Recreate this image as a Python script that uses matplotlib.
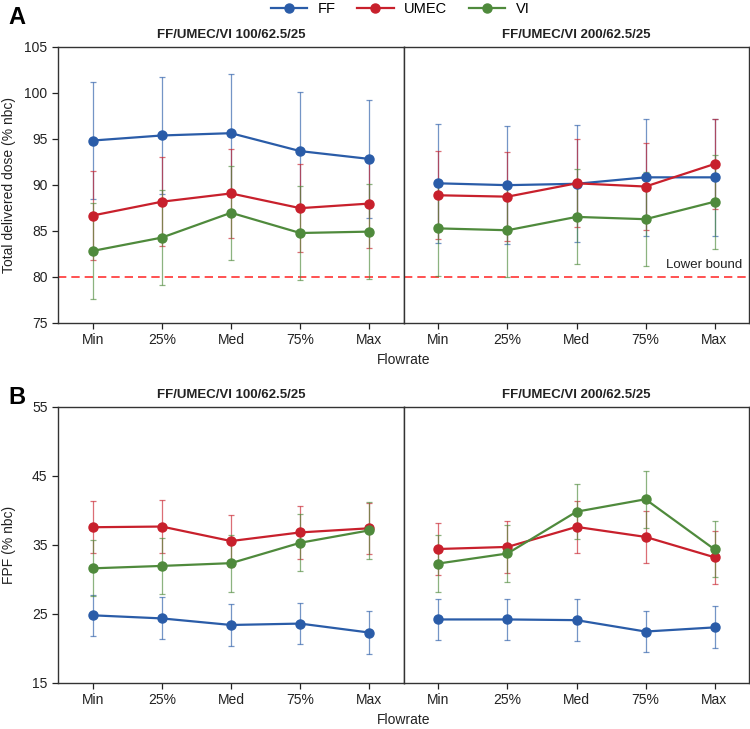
import numpy as np
import matplotlib
matplotlib.use('Agg')
from matplotlib import pyplot as plt

plt.rcParams['font.family'] = ['Liberation Sans', 'DejaVu Sans']

flow = ['Min', '25%', 'Med', '75%', 'Max']
panels = ['FF/UMEC/VI 100/62.5/25', 'FF/UMEC/VI 200/62.5/25']
series = ['FF', 'UMEC', 'VI']
colors = {'FF': '#2a5ca8', 'UMEC': '#c8202c', 'VI': '#4f8a3c'}

# total delivered dose (% nbc): mean and sd, per strength
tdd_ff_100 = [94.8, 95.35, 95.6, 93.65, 92.8]
tdd_ff_100_sd = [6.4, 6.4, 6.4, 6.4, 6.4]
tdd_umec_100 = [86.65, 88.15, 89.05, 87.45, 87.95]
tdd_umec_100_sd = [4.8, 4.85, 4.8, 4.8, 4.8]
tdd_vi_100 = [82.8, 84.25, 86.95, 84.75, 84.9]
tdd_vi_100_sd = [5.18, 5.13, 5.11, 5.11, 5.2]

tdd_ff_200 = [90.15, 89.95, 90.1, 90.8, 90.8]
tdd_ff_200_sd = [6.45, 6.4, 6.35, 6.37, 6.37]
tdd_umec_200 = [88.85, 88.7, 90.15, 89.8, 92.25]
tdd_umec_200_sd = [4.78, 4.81, 4.8, 4.75, 4.84]
tdd_vi_200 = [85.25, 85.05, 86.5, 86.25, 88.15]
tdd_vi_200_sd = [5.14, 5.1, 5.16, 5.13, 5.1]

# fine particle fraction (% nbc)
fpf_ff_100 = [24.8, 24.35, 23.4, 23.6, 22.3]
fpf_ff_100_sd = [3.0, 3.03, 3.03, 2.94, 3.06]
fpf_umec_100 = [37.55, 37.65, 35.55, 36.8, 37.4]
fpf_umec_100_sd = [3.78, 3.78, 3.78, 3.8, 3.7]
fpf_vi_100 = [31.6, 31.95, 32.35, 35.3, 37.1]
fpf_vi_100_sd = [4.07, 4.05, 4.12, 4.1, 4.12]

fpf_ff_200 = [24.2, 24.2, 24.1, 22.45, 23.05]
fpf_ff_200_sd = [3.03, 3.03, 3.01, 3.01, 3.03]
fpf_umec_200 = [34.4, 34.7, 37.6, 36.15, 33.2]
fpf_umec_200_sd = [3.8, 3.75, 3.78, 3.78, 3.8]
fpf_vi_200 = [32.3, 33.75, 39.8, 41.6, 34.35]
fpf_vi_200_sd = [4.07, 4.07, 4.02, 4.1, 4.04]

tdd = [
    {'FF': (tdd_ff_100, tdd_ff_100_sd), 'UMEC': (tdd_umec_100, tdd_umec_100_sd), 'VI': (tdd_vi_100, tdd_vi_100_sd)},
    {'FF': (tdd_ff_200, tdd_ff_200_sd), 'UMEC': (tdd_umec_200, tdd_umec_200_sd), 'VI': (tdd_vi_200, tdd_vi_200_sd)},
]
fpf = [
    {'FF': (fpf_ff_100, fpf_ff_100_sd), 'UMEC': (fpf_umec_100, fpf_umec_100_sd), 'VI': (fpf_vi_100, fpf_vi_100_sd)},
    {'FF': (fpf_ff_200, fpf_ff_200_sd), 'UMEC': (fpf_umec_200, fpf_umec_200_sd), 'VI': (fpf_vi_200, fpf_vi_200_sd)},
]
lower_bound = 80

fig = plt.figure(figsize=(7.5, 7.29), dpi=100)
W, H = 750, 729


def add_ax(x0, y0, x1, y1):
    return fig.add_axes([x0 / W, 1 - y1 / H, (x1 - x0) / W, (y1 - y0) / H])


rows = [
    (tdd, 46.7, 322.7, (75, 105), [75, 80, 85, 90, 95, 100, 105], 'Total delivered dose (% nbc)'),
    (fpf, 406.7, 683, (15, 55), [15, 25, 35, 45, 55], 'FPF (% nbc)'),
]
x = np.arange(len(flow))
handles = {}
for r, (data, ytop, ybot, ylim, yticks, ylabel) in enumerate(rows):
    axes = [add_ax(58, ytop, 404, ybot), add_ax(404, ytop, 749, ybot)]
    for p, ax in enumerate(axes):
        for s in series:
            m, sd = data[p][s]
            ax.errorbar(x, m, yerr=sd, fmt='none', ecolor=colors[s], elinewidth=0.9,
                        capsize=2.5, capthick=0.9, alpha=0.65, zorder=2)
            h, = ax.plot(x, m, '-o', color=colors[s], lw=1.6, ms=6.5, zorder=3, label=s)
            handles[s] = h
        ax.set_xlim(-0.5, 4.5)
        ax.set_ylim(*ylim)
        ax.set_yticks(yticks)
        ax.set_xticks(x)
        ax.set_xticklabels(flow)
        ax.tick_params(labelsize=10, colors='#222222', length=4, width=0.9)
        for sp in ax.spines.values():
            sp.set_color('#333333')
            sp.set_linewidth(1.0)
        ax.set_title(panels[p], fontsize=9.5, fontweight='bold', pad=6, color='#222222')
        if p == 1:
            ax.tick_params(axis='y', left=False, labelleft=False)
        else:
            ax.set_ylabel(ylabel, fontsize=10, color='#222222')
            ax.yaxis.set_label_coords(-0.122, 0.5)
        if r == 0:
            ax.axhline(lower_bound, color='#ff3333', lw=1.2, ls=(0, (5, 3)), zorder=1)
    if r == 0:
        axes[1].text(4.4, lower_bound + 0.6, 'Lower bound', ha='right', va='bottom',
                     fontsize=9.5, color='#222222')
    fig.text(404 / W, 1 - (ybot + 37) / H, 'Flowrate', ha='center', va='center',
             fontsize=10, color='#222222')

fig.text(8 / W, 1 - 18 / H, 'A', fontsize=17, fontweight='bold', va='center')
fig.text(8 / W, 1 - 398 / H, 'B', fontsize=17, fontweight='bold', va='center')

fig.legend([handles[s] for s in series], series, loc='center', bbox_to_anchor=(400 / W, 1 - 9 / H),
           ncol=3, frameon=False, fontsize=10.5, handlelength=2.5, columnspacing=1.5,
           handletextpad=0.7)

fig.savefig('out.png', dpi=100)
